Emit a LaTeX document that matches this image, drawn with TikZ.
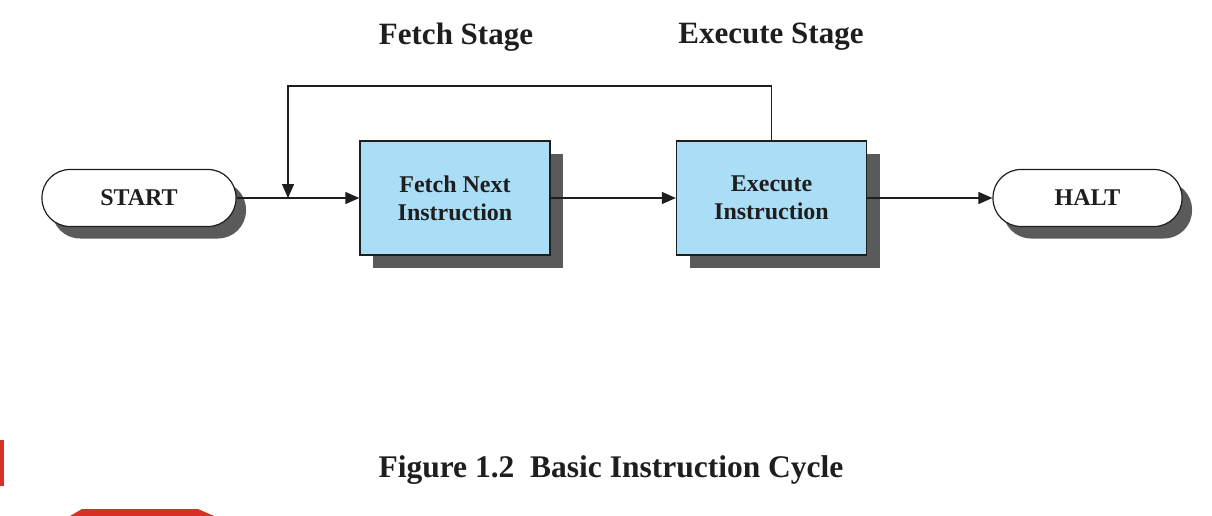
\documentclass[tikz,border=0pt]{standalone}
\usepackage{fontspec}
\setmainfont{Liberation Serif}
\usetikzlibrary{arrows.meta,shadows}
\definecolor{boxblue}{RGB}{170,221,246}
\definecolor{shadowgrey}{RGB}{90,90,90}
\definecolor{inkc}{RGB}{30,30,30}
\definecolor{slidered}{RGB}{216,48,37}
\tikzset{
  every node/.style={text=inkc, font=\bfseries},
  stepbox/.style={draw=inkc, line width=1.4pt, fill=boxblue, minimum width=190pt, minimum height=114pt,
    align=center, font=\bfseries\fontsize{24}{28}\selectfont,
    drop shadow={shadow xshift=13pt, shadow yshift=-13pt, fill=shadowgrey, opacity=1}},
  pill/.style={draw=inkc, line width=1.2pt, fill=white, rounded corners=28pt, minimum height=57pt,
    font=\bfseries\fontsize{24}{27}\selectfont,
    drop shadow={shadow xshift=10pt, shadow yshift=-12pt, fill=shadowgrey, opacity=1}},
  stagelabel/.style={font=\bfseries\fontsize{31}{34}\selectfont},
  flow/.style={draw=inkc, line width=1.4pt, -{Triangle[length=14pt,width=12pt]}},
}
\begin{document}
\begin{tikzpicture}[x=1pt,y=-1pt]
\useasboundingbox (0,0) rectangle (1212,516);
\fill[white] (0,0) rectangle (1212,516);
% slide artefacts
\fill[slidered] (0,440) rectangle (4,486);
\fill[slidered] (70,516) -- (82,509) -- (198,509) -- (214,516) -- cycle;

\node[stagelabel] (fs) at (456,37) {Fetch Stage};
\node[stagelabel] (es) at (771,37) {Execute Stage};

\node[pill, minimum width=194pt] (start) at (139,198) {START};
\node[stepbox] (fetch) at (455,198) {Fetch Next\\Instruction};
\node[stepbox] (exec) at (771.5,198) {Execute\\Instruction};
\node[pill, minimum width=189pt] (halt) at (1087.5,198) {HALT};

\coordinate (loopL) at (288,86);
\coordinate (join) at (288,198);

\draw[flow] (start.east) -- (fetch.west);
\draw[flow] (fetch.east) -- (exec.west);
\draw[flow] (exec.east) -- (halt.west);
\draw[flow] (exec.north) |- (loopL) -- (join);

\node[font=\bfseries\fontsize{31.5}{34}\selectfont] (cap) at (611,470) {Figure 1.2\ \ Basic Instruction Cycle};
\end{tikzpicture}
\end{document}
